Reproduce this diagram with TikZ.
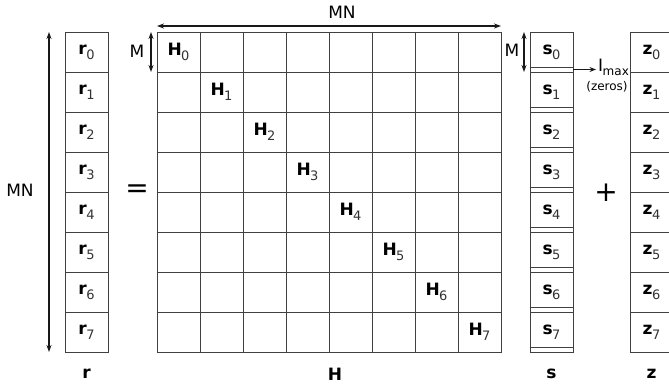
\documentclass[tikz,border=0pt]{standalone}
\usepackage{fontspec}
\setmainfont{DejaVu Sans}
\usetikzlibrary{arrows.meta}
\newcommand{\lbl}[2]{\textbf{#1}\kern-0.6pt\raisebox{-5pt}{\fontsize{13}{14}\selectfont\color{black!80}#2}}
\begin{document}
\begin{tikzpicture}[x=1pt,y=-1pt,
  cell/.style={draw=black!75, line width=0.9pt, minimum width=43pt, minimum height=40pt, inner sep=0pt, font=\fontsize{17}{19}\selectfont},
  dim/.style={{Stealth[length=7pt,width=5pt]}-{Stealth[length=7pt,width=5pt]}, line width=1.3pt, black!90},
  arr/.style={-{Stealth[length=6.5pt,width=5pt]}, line width=1.2pt, black!90},
  txt/.style={font=\fontsize{17}{19}\selectfont, inner sep=0pt},
  big/.style={font=\fontsize{28}{30}\selectfont, inner sep=0pt}]
\useasboundingbox (0,0) rectangle (669,386);
% r column
\foreach \k in {0,...,7}{
  \node[cell] (r\k) at (86.5,{52+40*\k}) {\lbl{r}{\k}};
}
% H matrix
\foreach \i in {0,...,7}{
  \foreach \j in {0,...,7}{
    \ifnum\i=\j
      \node[cell] (H\i\j) at ({178.5+43*\j},{52+40*\i}) {\lbl{H}{\i}};
    \else
      \node[cell] (H\i\j) at ({178.5+43*\j},{52+40*\i}) {};
    \fi
  }
}
% s column with zero strips
\foreach \k in {0,...,7}{
  \node[cell] (s\k) at (551.5,{52+40*\k}) {\lbl{s}{\k}};
  \draw[draw=black!75, line width=0.9pt] ([yshift=5pt]s\k.south west) -- ([yshift=5pt]s\k.south east);
}
% z column
\foreach \k in {0,...,7}{
  \node[cell] (z\k) at (651.5,{52+40*\k}) {\lbl{z}{\k}};
}
% dimension arrows
\coordinate (mnL) at (157,26);
\coordinate (mnR) at (501,26);
\draw[dim] (mnL) -- (mnR);
\node[txt] (mnTop) at (342,12) {MN};
\coordinate (vT) at (49,32);
\coordinate (vB) at (49,352);
\draw[dim] (vT) -- (vB);
\node[txt] (mnLeft) at (20,190) {MN};
\coordinate (mhT) at (151,32);
\coordinate (mhB) at (151,72);
\draw[dim] (mhT) -- (mhB);
\node[txt] (mH) at (137,51) {M};
\coordinate (msT) at (524,32);
\coordinate (msB) at (524,72);
\draw[dim] (msT) -- (msB);
\node[txt] (mS) at (512,50) {M};
% Imax arrow
\coordinate (iS) at (573,69.5);
\coordinate (iE) at (596,69.5);
\draw[arr] (iS) -- (iE);
\node[txt, anchor=west] (imax) at (598,67) {I\kern-0.5pt\raisebox{-4pt}{\fontsize{12}{13}\selectfont max}};
\node[font=\fontsize{12}{13}\selectfont, inner sep=0pt] (zeros) at (607,87) {(zeros)};
% operators
\node[big] (eq) at (137,191) {=};
\node[big] (plus) at (606,193) {+};
% bottom labels
\node[txt] (lr) at (86.5,374) {\textbf{r}};
\node[txt] (lH) at (335,374) {\textbf{H}};
\node[txt] (ls) at (551.5,374) {\textbf{s}};
\node[txt] (lz) at (651.5,374) {\textbf{z}};
\end{tikzpicture}
\end{document}
